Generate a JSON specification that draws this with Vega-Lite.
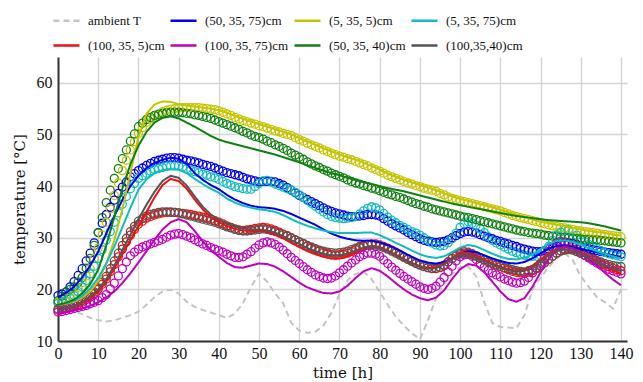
{
"$schema":"https://vega.github.io/schema/vega-lite/v6.json",
"width":569,"height":284,
"autosize":{"type":"none"},
"padding":{"left":58,"top":57,"right":16,"bottom":41},
"background":"white",
"config":{
 "font":"Liberation Serif",
 "view":{"stroke":null},
 "axis":{"labelFont":"Liberation Serif","titleFont":"DejaVu Serif","labelFontSize":16,"titleFontSize":15,"titleFontWeight":"normal","labelColor":"#111","titleColor":"#111","gridColor":"#d4d4d4","gridWidth":1.3,"domainColor":"#333","domainWidth":2,"ticks":false,"labelFlush":false},
 "legend":{"labelFont":"Liberation Serif","labelFontSize":14,"labelColor":"#111"}
},
"datasets":{
"series":[{"k":"a","name":"ambient T"},{"k":"b","name":"(50, 35, 75)cm"},{"k":"y","name":"(5, 35, 5)cm"},{"k":"c","name":"(5, 35, 75)cm"},{"k":"r","name":"(100, 35, 5)cm"},{"k":"m","name":"(100, 35, 75)cm"},{"k":"g","name":"(50, 35, 40)cm"},{"k":"k","name":"(100,35,40)cm"}],
"sim":[
{"t":0,"a":16.5,"b":18.5,"y":17,"c":17,"r":16,"m":15.5,"g":17,"k":16},
{"t":2,"a":16.2,"b":19.3,"y":17.2,"c":17.3,"r":16.2,"m":15.6,"g":17.4,"k":16.3},
{"t":4,"a":15.8,"b":20.5,"y":17.6,"c":17.8,"r":16.7,"m":15.9,"g":18,"k":16.8},
{"t":6,"a":15.2,"b":22.3,"y":18.4,"c":18.7,"r":17.4,"m":16.3,"g":19.2,"k":17.6},
{"t":8,"a":14.5,"b":24.6,"y":19.6,"c":20.2,"r":18.3,"m":16.8,"g":21,"k":18.6},
{"t":10,"a":14,"b":27.3,"y":21.6,"c":22.2,"r":19.6,"m":17.5,"g":23.8,"k":20},
{"t":12,"a":13.8,"b":30.8,"y":25,"c":25,"r":21.5,"m":18.4,"g":28.5,"k":22},
{"t":14,"a":14,"b":34.2,"y":29.5,"c":28.3,"r":24,"m":19.6,"g":34,"k":24.6},
{"t":16,"a":14.5,"b":37.3,"y":35.5,"c":32,"r":26.8,"m":21.2,"g":39.5,"k":27.6},
{"t":18,"a":15,"b":40,"y":42.5,"c":35.8,"r":29.5,"m":23.1,"g":44.2,"k":30.6},
{"t":20,"a":15.7,"b":42,"y":49.5,"c":39.3,"r":32.2,"m":25.2,"g":47.8,"k":33.6},
{"t":22,"a":17,"b":43.5,"y":54,"c":41.3,"r":35,"m":27.4,"g":50.5,"k":36.4},
{"t":24,"a":18.5,"b":44.5,"y":55.8,"c":42.5,"r":37.8,"m":29.6,"g":52.3,"k":38.9},
{"t":26,"a":19.6,"b":45.1,"y":56.4,"c":43.1,"r":40.2,"m":31.6,"g":53.2,"k":41},
{"t":28,"a":19.9,"b":45.5,"y":56.3,"c":43.3,"r":41.4,"m":33,"g":53.5,"k":42},
{"t":30,"a":19.2,"b":45.3,"y":55.9,"c":43.2,"r":41,"m":33.6,"g":53.1,"k":41.6},
{"t":32,"a":17.6,"b":44.3,"y":55.6,"c":42.5,"r":39.5,"m":33,"g":52.3,"k":40.1},
{"t":34,"a":16.6,"b":42.5,"y":55.4,"c":41.4,"r":37.4,"m":31.3,"g":51.5,"k":38},
{"t":36,"a":16,"b":41.2,"y":55.2,"c":40.4,"r":35.5,"m":29.3,"g":50.6,"k":36},
{"t":38,"a":15.5,"b":40.2,"y":55,"c":39.5,"r":34,"m":27.6,"g":49.7,"k":34.5},
{"t":40,"a":15,"b":39.4,"y":54.7,"c":38.7,"r":33,"m":26.3,"g":49,"k":33.5},
{"t":42,"a":14.5,"b":38.3,"y":54.2,"c":37.6,"r":32.3,"m":25.1,"g":48.5,"k":32.7},
{"t":44,"a":15.3,"b":37.4,"y":53.6,"c":36.8,"r":31.7,"m":24.3,"g":48.1,"k":32.1},
{"t":46,"a":17.3,"b":36.7,"y":53,"c":36.2,"r":31.4,"m":24.2,"g":47.7,"k":31.8},
{"t":48,"a":20.5,"b":36.2,"y":52.5,"c":35.8,"r":31.3,"m":24.6,"g":47.3,"k":31.6},
{"t":50,"a":23,"b":35.9,"y":52,"c":35.5,"r":31.3,"m":25,"g":46.9,"k":31.6},
{"t":52,"a":21.5,"b":35.8,"y":51.5,"c":35.3,"r":31.1,"m":24.9,"g":46.5,"k":31.4},
{"t":54,"a":19.2,"b":35.6,"y":51,"c":35,"r":30.6,"m":24.4,"g":46.1,"k":31},
{"t":56,"a":17.3,"b":35.2,"y":50.5,"c":34.4,"r":29.9,"m":23.5,"g":45.6,"k":30.3},
{"t":58,"a":13.5,"b":34.6,"y":50,"c":33.6,"r":29,"m":22.4,"g":45.1,"k":29.5},
{"t":60,"a":12,"b":33.9,"y":49.3,"c":32.9,"r":28.2,"m":21.3,"g":44.6,"k":28.8},
{"t":62,"a":11.6,"b":33.2,"y":48.6,"c":32.3,"r":27.4,"m":20.4,"g":44,"k":28},
{"t":64,"a":11.8,"b":32.5,"y":48,"c":31.8,"r":26.8,"m":19.8,"g":43.5,"k":27.4},
{"t":66,"a":13,"b":31.6,"y":47.3,"c":31.4,"r":26.3,"m":19.3,"g":43,"k":26.9},
{"t":68,"a":15.5,"b":30.8,"y":46.7,"c":31.1,"r":26,"m":19.2,"g":42.5,"k":26.6},
{"t":70,"a":19,"b":30.2,"y":46.1,"c":30.9,"r":26,"m":19.6,"g":42.1,"k":26.6},
{"t":72,"a":21.8,"b":29.8,"y":45.6,"c":30.9,"r":26.4,"m":20.7,"g":41.6,"k":26.9},
{"t":74,"a":23,"b":29.5,"y":45.1,"c":30.9,"r":27.1,"m":22.2,"g":41.2,"k":27.5},
{"t":76,"a":23.4,"b":29.4,"y":44.5,"c":31,"r":27.9,"m":23.5,"g":40.8,"k":28.1},
{"t":78,"a":22,"b":29.4,"y":43.9,"c":31,"r":28.4,"m":24.1,"g":40.4,"k":28.4},
{"t":80,"a":19.5,"b":29.1,"y":43.2,"c":30.5,"r":28.2,"m":23.6,"g":40,"k":28.1},
{"t":82,"a":17,"b":28.6,"y":42.4,"c":29.8,"r":27.5,"m":22.5,"g":39.6,"k":27.4},
{"t":84,"a":14.7,"b":27.9,"y":41.8,"c":29,"r":26.7,"m":21.2,"g":39.3,"k":26.6},
{"t":86,"a":13,"b":27.1,"y":41.2,"c":28.3,"r":25.9,"m":20,"g":39,"k":25.8},
{"t":88,"a":11.5,"b":26.3,"y":40.7,"c":27.5,"r":25.1,"m":19,"g":38.6,"k":25},
{"t":90,"a":10.3,"b":25.6,"y":40.2,"c":26.8,"r":24.5,"m":18.3,"g":38.2,"k":24.4},
{"t":92,"a":14,"b":25.2,"y":39.7,"c":26.3,"r":24.2,"m":17.9,"g":37.8,"k":24},
{"t":94,"a":18.3,"b":25,"y":39.2,"c":26.1,"r":24.3,"m":18.4,"g":37.4,"k":24.1},
{"t":96,"a":21,"b":25.3,"y":38.6,"c":26.4,"r":25,"m":19.8,"g":37,"k":24.8},
{"t":98,"a":23,"b":26,"y":38,"c":27.2,"r":26.1,"m":22,"g":36.6,"k":25.9},
{"t":100,"a":24.3,"b":26.8,"y":37.5,"c":28.1,"r":27,"m":23.9,"g":36.3,"k":26.7},
{"t":102,"a":24.5,"b":27.4,"y":37.1,"c":28.6,"r":27.1,"m":24.9,"g":36,"k":26.8},
{"t":104,"a":22.5,"b":27.2,"y":36.7,"c":28.3,"r":26.5,"m":24.6,"g":35.7,"k":26.2},
{"t":106,"a":17.5,"b":26.6,"y":36.3,"c":27.6,"r":25.8,"m":23.3,"g":35.4,"k":25.5},
{"t":108,"a":13.5,"b":26,"y":35.9,"c":26.9,"r":25,"m":21.5,"g":35.1,"k":24.8},
{"t":110,"a":12.7,"b":25.5,"y":35.4,"c":26.3,"r":24.4,"m":19.6,"g":34.8,"k":24.2},
{"t":112,"a":12.6,"b":25.1,"y":34.9,"c":25.9,"r":23.9,"m":18.1,"g":34.5,"k":23.7},
{"t":114,"a":12.5,"b":25,"y":34.4,"c":25.8,"r":23.6,"m":17.6,"g":34.2,"k":23.4},
{"t":116,"a":15,"b":25.3,"y":34,"c":26.1,"r":23.8,"m":18.3,"g":34,"k":23.6},
{"t":118,"a":20,"b":26,"y":33.5,"c":26.8,"r":24.6,"m":20.5,"g":33.8,"k":24.3},
{"t":120,"a":22.3,"b":27,"y":33.1,"c":27.8,"r":25.8,"m":23.3,"g":33.6,"k":25.4},
{"t":122,"a":24.3,"b":27.9,"y":32.8,"c":28.8,"r":27,"m":25.8,"g":33.4,"k":26.6},
{"t":124,"a":26,"b":28.4,"y":32.5,"c":29.4,"r":27.8,"m":27.6,"g":33.3,"k":27.4},
{"t":126,"a":27,"b":28.5,"y":32.2,"c":29.5,"r":28.2,"m":28.2,"g":33.2,"k":27.7},
{"t":128,"a":25.7,"b":28.2,"y":31.9,"c":29.2,"r":27.9,"m":27.9,"g":33.1,"k":27.5},
{"t":130,"a":22.5,"b":27.8,"y":31.6,"c":28.6,"r":27.2,"m":26.9,"g":33,"k":26.9},
{"t":132,"a":20.5,"b":27.5,"y":31.3,"c":28,"r":26.3,"m":25.8,"g":32.8,"k":26.1},
{"t":134,"a":18.5,"b":27.2,"y":31.1,"c":27.4,"r":25.4,"m":24.6,"g":32.5,"k":25.3},
{"t":136,"a":17.5,"b":26.9,"y":30.9,"c":26.9,"r":24.5,"m":23.2,"g":32.2,"k":24.6},
{"t":138,"a":16.3,"b":26.6,"y":30.6,"c":26.4,"r":23.7,"m":21.9,"g":31.8,"k":24},
{"t":140,"a":20,"b":26.3,"y":30.4,"c":26,"r":23,"m":20.8,"g":31.4,"k":23.5}
],
"meas":[
{"t":0,"b":18.8,"y":17.6,"c":17.3,"r":16,"m":15.6,"g":17.8,"k":16.2},
{"t":1,"b":19.1,"y":18,"c":17.5,"r":16.1,"m":15.7,"g":18.7,"k":16.3},
{"t":2,"b":19.5,"y":18.4,"c":17.8,"r":16.3,"m":15.9,"g":19.5,"k":16.5},
{"t":3,"b":20.5,"y":18.9,"c":18.3,"r":16.5,"m":16.1,"g":20,"k":16.7},
{"t":4,"b":21.5,"y":19.5,"c":18.8,"r":16.8,"m":16.3,"g":20.5,"k":17},
{"t":5,"b":22.7,"y":20.4,"c":19.6,"r":17.1,"m":16.5,"g":21.4,"k":17.4},
{"t":6,"b":24,"y":21.3,"c":20.5,"r":17.5,"m":16.7,"g":22.3,"k":17.8},
{"t":7,"b":25.5,"y":22.6,"c":21.7,"r":18,"m":16.9,"g":24.1,"k":18.3},
{"t":8,"b":27,"y":24,"c":23,"r":18.5,"m":17.2,"g":26,"k":18.8},
{"t":9,"b":29,"y":26,"c":24.5,"r":19.2,"m":17.5,"g":28.5,"k":19.5},
{"t":10,"b":31,"y":28,"c":26,"r":20,"m":17.8,"g":31,"k":20.3},
{"t":11,"b":32.8,"y":30.5,"c":27.7,"r":21,"m":18.4,"g":33.9,"k":21.4},
{"t":12,"b":34.5,"y":33,"c":29.5,"r":22,"m":19,"g":36.8,"k":22.5},
{"t":13,"b":35.9,"y":35.6,"c":31.2,"r":23.4,"m":20.1,"g":39.2,"k":24},
{"t":14,"b":37.3,"y":38.2,"c":33,"r":24.8,"m":21.2,"g":41.5,"k":25.5},
{"t":15,"b":38.6,"y":40.6,"c":34.8,"r":26.3,"m":22.6,"g":43.4,"k":27},
{"t":16,"b":39.8,"y":43,"c":36.5,"r":27.8,"m":24,"g":45.3,"k":28.5},
{"t":17,"b":40.8,"y":45,"c":38,"r":29.2,"m":25.3,"g":47,"k":29.9},
{"t":18,"b":41.8,"y":47,"c":39.5,"r":30.5,"m":26.5,"g":48.7,"k":31.2},
{"t":19,"b":42.4,"y":48.6,"c":40.5,"r":31.6,"m":27.2,"g":50.1,"k":32.2},
{"t":20,"b":43,"y":50.2,"c":41.5,"r":32.6,"m":27.8,"g":51.5,"k":33.2},
{"t":21,"b":43.5,"y":51.3,"c":42,"r":33.2,"m":28.2,"g":52.2,"k":33.7},
{"t":22,"b":44,"y":52.3,"c":42.5,"r":33.8,"m":28.5,"g":52.9,"k":34.2},
{"t":23,"b":44.4,"y":53,"c":42.9,"r":34.1,"m":28.8,"g":53.3,"k":34.5},
{"t":24,"b":44.8,"y":53.6,"c":43.2,"r":34.4,"m":29.1,"g":53.7,"k":34.7},
{"t":25,"b":45,"y":54,"c":43.4,"r":34.6,"m":29.4,"g":53.9,"k":34.9},
{"t":26,"b":45.2,"y":54.4,"c":43.6,"r":34.8,"m":29.7,"g":54.1,"k":35},
{"t":27,"b":45.4,"y":54.7,"c":43.8,"r":34.9,"m":30.1,"g":54.2,"k":35},
{"t":28,"b":45.5,"y":54.9,"c":43.9,"r":34.9,"m":30.5,"g":54.3,"k":35},
{"t":29,"b":45.5,"y":55,"c":43.9,"r":34.9,"m":30.7,"g":54.3,"k":34.9},
{"t":30,"b":45.4,"y":55.1,"c":43.9,"r":34.8,"m":30.8,"g":54.3,"k":34.8},
{"t":31,"b":45.2,"y":55.2,"c":43.7,"r":34.7,"m":30.6,"g":54.2,"k":34.6},
{"t":32,"b":45,"y":55.2,"c":43.4,"r":34.6,"m":30.3,"g":54.1,"k":34.4},
{"t":33,"b":44.9,"y":55.2,"c":43.1,"r":34.5,"m":30,"g":54,"k":34.2},
{"t":34,"b":44.7,"y":55.2,"c":42.8,"r":34.3,"m":29.6,"g":53.8,"k":34},
{"t":35,"b":44.5,"y":55.2,"c":42.6,"r":34.2,"m":29.2,"g":53.7,"k":33.8},
{"t":36,"b":44.2,"y":55.1,"c":42.3,"r":34,"m":28.8,"g":53.5,"k":33.6},
{"t":37,"b":44,"y":55,"c":42.1,"r":33.8,"m":28.5,"g":53.3,"k":33.4},
{"t":38,"b":43.8,"y":54.9,"c":41.8,"r":33.6,"m":28.1,"g":53.1,"k":33.2},
{"t":39,"b":43.5,"y":54.8,"c":41.6,"r":33.3,"m":27.8,"g":52.8,"k":33},
{"t":40,"b":43.2,"y":54.6,"c":41.3,"r":33,"m":27.5,"g":52.5,"k":32.7},
{"t":41,"b":42.9,"y":54.3,"c":40.9,"r":32.7,"m":27.2,"g":52.2,"k":32.4},
{"t":42,"b":42.6,"y":54,"c":40.5,"r":32.3,"m":26.8,"g":51.9,"k":32.1},
{"t":43,"b":42.4,"y":53.7,"c":40.2,"r":32,"m":26.5,"g":51.6,"k":31.9},
{"t":44,"b":42.2,"y":53.3,"c":39.9,"r":31.7,"m":26.2,"g":51.3,"k":31.6},
{"t":45,"b":42,"y":53,"c":39.7,"r":31.5,"m":26.2,"g":51,"k":31.4},
{"t":46,"b":41.7,"y":52.7,"c":39.5,"r":31.4,"m":26.3,"g":50.6,"k":31.3},
{"t":47,"b":41.4,"y":52.5,"c":39.4,"r":31.5,"m":26.8,"g":50.3,"k":31.3},
{"t":48,"b":41.2,"y":52.2,"c":39.4,"r":31.6,"m":27.3,"g":49.9,"k":31.4},
{"t":49,"b":41,"y":52,"c":39.9,"r":31.8,"m":28,"g":49.6,"k":31.5},
{"t":50,"b":40.8,"y":51.7,"c":40.5,"r":31.9,"m":28.6,"g":49.4,"k":31.6},
{"t":51,"b":40.9,"y":51.5,"c":41,"r":32,"m":29,"g":49.1,"k":31.7},
{"t":52,"b":40.9,"y":51.2,"c":41.1,"r":31.9,"m":29.2,"g":48.7,"k":31.6},
{"t":53,"b":40.9,"y":51,"c":40.8,"r":31.7,"m":29,"g":48.4,"k":31.4},
{"t":54,"b":40.8,"y":50.7,"c":40.4,"r":31.4,"m":28.7,"g":48,"k":31.2},
{"t":55,"b":40.5,"y":50.5,"c":40.1,"r":31.1,"m":28.2,"g":47.7,"k":30.9},
{"t":56,"b":40.2,"y":50.2,"c":39.8,"r":30.7,"m":27.6,"g":47.3,"k":30.6},
{"t":57,"b":39.7,"y":50,"c":39.5,"r":30.4,"m":26.9,"g":46.9,"k":30.3},
{"t":58,"b":39.2,"y":49.8,"c":39.2,"r":30,"m":26.2,"g":46.4,"k":29.9},
{"t":59,"b":38.7,"y":49.4,"c":38.8,"r":29.6,"m":25.6,"g":46,"k":29.6},
{"t":60,"b":38.2,"y":49,"c":38.3,"r":29.2,"m":25,"g":45.6,"k":29.2},
{"t":61,"b":37.8,"y":48.7,"c":37.8,"r":28.8,"m":24.4,"g":45.2,"k":28.9},
{"t":62,"b":37.4,"y":48.3,"c":37.2,"r":28.4,"m":23.8,"g":44.7,"k":28.5},
{"t":63,"b":37,"y":48,"c":36.7,"r":28,"m":23.3,"g":44.3,"k":28.2},
{"t":64,"b":36.6,"y":47.7,"c":36.1,"r":27.7,"m":22.8,"g":43.9,"k":27.9},
{"t":65,"b":36.2,"y":47.4,"c":35.5,"r":27.4,"m":22.5,"g":43.6,"k":27.6},
{"t":66,"b":35.8,"y":47,"c":35,"r":27.1,"m":22.2,"g":43.2,"k":27.4},
{"t":67,"b":35.4,"y":46.7,"c":34.5,"r":26.9,"m":22.1,"g":42.9,"k":27.2},
{"t":68,"b":35.1,"y":46.4,"c":34.1,"r":26.7,"m":22.2,"g":42.5,"k":27.1},
{"t":69,"b":34.8,"y":46.1,"c":33.9,"r":26.6,"m":22.6,"g":42.2,"k":27},
{"t":70,"b":34.6,"y":45.8,"c":33.8,"r":26.7,"m":23.2,"g":41.9,"k":27.1},
{"t":71,"b":34.4,"y":45.6,"c":33.7,"r":26.8,"m":23.8,"g":41.6,"k":27.2},
{"t":72,"b":34.2,"y":45.3,"c":33.8,"r":27,"m":24.5,"g":41.2,"k":27.4},
{"t":73,"b":34.1,"y":45.1,"c":33.9,"r":27.3,"m":25.1,"g":40.9,"k":27.7},
{"t":74,"b":34.1,"y":44.8,"c":34.1,"r":27.7,"m":25.7,"g":40.6,"k":28},
{"t":75,"b":34.2,"y":44.5,"c":34.6,"r":28.1,"m":26.3,"g":40.4,"k":28.3},
{"t":76,"b":34.3,"y":44.2,"c":35.2,"r":28.4,"m":26.7,"g":40.1,"k":28.5},
{"t":77,"b":34.5,"y":43.9,"c":35.7,"r":28.7,"m":27,"g":39.9,"k":28.7},
{"t":78,"b":34.5,"y":43.5,"c":36,"r":28.8,"m":27,"g":39.6,"k":28.7},
{"t":79,"b":34.4,"y":43.2,"c":35.8,"r":28.8,"m":26.8,"g":39.4,"k":28.6},
{"t":80,"b":34.2,"y":42.9,"c":35.4,"r":28.6,"m":26.4,"g":39.1,"k":28.4},
{"t":81,"b":33.7,"y":42.5,"c":34.7,"r":28.3,"m":25.7,"g":38.8,"k":28.1},
{"t":82,"b":33.2,"y":42.1,"c":34,"r":28,"m":25,"g":38.5,"k":27.8},
{"t":83,"b":32.7,"y":41.8,"c":33.4,"r":27.6,"m":24.3,"g":38.3,"k":27.4},
{"t":84,"b":32.3,"y":41.5,"c":32.9,"r":27.2,"m":23.7,"g":38,"k":27},
{"t":85,"b":31.9,"y":41.2,"c":32.4,"r":26.8,"m":23.1,"g":37.8,"k":26.6},
{"t":86,"b":31.5,"y":40.9,"c":32,"r":26.3,"m":22.5,"g":37.5,"k":26.2},
{"t":87,"b":31,"y":40.6,"c":31.6,"r":25.9,"m":22,"g":37.2,"k":25.8},
{"t":88,"b":30.6,"y":40.4,"c":31.2,"r":25.5,"m":21.5,"g":36.9,"k":25.4},
{"t":89,"b":30.2,"y":40.1,"c":30.9,"r":25.1,"m":21,"g":36.6,"k":25},
{"t":90,"b":29.8,"y":39.9,"c":30.5,"r":24.8,"m":20.5,"g":36.4,"k":24.7},
{"t":91,"b":29.5,"y":39.6,"c":30,"r":24.5,"m":20.2,"g":36.1,"k":24.4},
{"t":92,"b":29.3,"y":39.4,"c":29.5,"r":24.2,"m":20,"g":35.9,"k":24.2},
{"t":93,"b":29.2,"y":39.2,"c":29,"r":24,"m":20.2,"g":35.6,"k":24.1},
{"t":94,"b":29.1,"y":39,"c":28.6,"r":24,"m":20.6,"g":35.4,"k":24.1},
{"t":95,"b":29.2,"y":38.6,"c":28.4,"r":24.2,"m":21.4,"g":35.2,"k":24.3},
{"t":96,"b":29.3,"y":38.3,"c":28.5,"r":24.6,"m":22.3,"g":35,"k":24.7},
{"t":97,"b":29.6,"y":37.9,"c":29,"r":25.3,"m":23.4,"g":34.8,"k":25.3},
{"t":98,"b":30,"y":37.6,"c":29.8,"r":26,"m":24.5,"g":34.6,"k":26},
{"t":99,"b":30.4,"y":37.4,"c":30.9,"r":26.6,"m":25.5,"g":34.4,"k":26.5},
{"t":100,"b":30.8,"y":37.2,"c":32,"r":27.1,"m":26.3,"g":34.2,"k":26.9},
{"t":101,"b":31.1,"y":37,"c":32.7,"r":27.3,"m":26.7,"g":34,"k":27},
{"t":102,"b":31.2,"y":36.8,"c":33.1,"r":27.2,"m":26.8,"g":33.9,"k":27},
{"t":103,"b":31.1,"y":36.6,"c":32.8,"r":26.9,"m":26.4,"g":33.7,"k":26.7},
{"t":104,"b":30.9,"y":36.4,"c":32.4,"r":26.5,"m":25.8,"g":33.5,"k":26.4},
{"t":105,"b":30.6,"y":36.2,"c":31.7,"r":26.1,"m":25,"g":33.3,"k":26},
{"t":106,"b":30.3,"y":36,"c":31,"r":25.7,"m":24.3,"g":33.1,"k":25.7},
{"t":107,"b":30,"y":35.8,"c":30.2,"r":25.3,"m":23.7,"g":32.9,"k":25.4},
{"t":108,"b":29.8,"y":35.6,"c":29.5,"r":25,"m":23.2,"g":32.7,"k":25.1},
{"t":109,"b":29.5,"y":35.4,"c":29,"r":24.7,"m":22.8,"g":32.5,"k":24.8},
{"t":110,"b":29.3,"y":35.2,"c":28.6,"r":24.4,"m":22.4,"g":32.3,"k":24.5},
{"t":111,"b":29,"y":34.9,"c":28.2,"r":24.1,"m":22,"g":32.1,"k":24.2},
{"t":112,"b":28.8,"y":34.6,"c":27.8,"r":23.8,"m":21.7,"g":31.9,"k":24},
{"t":113,"b":28.5,"y":34.3,"c":27.4,"r":23.5,"m":21.4,"g":31.7,"k":23.8},
{"t":114,"b":28.3,"y":34.1,"c":27.1,"r":23.3,"m":21.2,"g":31.5,"k":23.6},
{"t":115,"b":28,"y":33.9,"c":26.8,"r":23.2,"m":21.3,"g":31.3,"k":23.5},
{"t":116,"b":27.8,"y":33.7,"c":26.6,"r":23.1,"m":21.6,"g":31.2,"k":23.4},
{"t":117,"b":27.6,"y":33.5,"c":26.5,"r":23.3,"m":22.3,"g":31,"k":23.6},
{"t":118,"b":27.4,"y":33.3,"c":26.4,"r":23.6,"m":23.2,"g":30.9,"k":23.8},
{"t":119,"b":27.3,"y":33.1,"c":26.4,"r":24,"m":24.1,"g":30.8,"k":24.2},
{"t":120,"b":27.3,"y":32.9,"c":26.6,"r":24.5,"m":25,"g":30.7,"k":24.6},
{"t":121,"b":27.5,"y":32.7,"c":27.3,"r":25.1,"m":26.2,"g":30.5,"k":25.2},
{"t":122,"b":27.8,"y":32.5,"c":28.3,"r":25.8,"m":27.3,"g":30.4,"k":25.8},
{"t":123,"b":28.1,"y":32.3,"c":29.5,"r":26.4,"m":28.3,"g":30.3,"k":26.4},
{"t":124,"b":28.4,"y":32.2,"c":30.5,"r":27,"m":29,"g":30.2,"k":27},
{"t":125,"b":28.7,"y":32,"c":31.1,"r":27.5,"m":29.3,"g":30.1,"k":27.4},
{"t":126,"b":28.9,"y":31.9,"c":31.5,"r":27.8,"m":29.2,"g":30.1,"k":27.6},
{"t":127,"b":29,"y":31.7,"c":31.5,"r":27.9,"m":28.8,"g":30,"k":27.7},
{"t":128,"b":28.9,"y":31.6,"c":31.2,"r":27.8,"m":28.3,"g":29.9,"k":27.6},
{"t":129,"b":28.7,"y":31.4,"c":30.5,"r":27.4,"m":27.8,"g":29.8,"k":27.3},
{"t":130,"b":28.4,"y":31.3,"c":29.7,"r":27,"m":27.2,"g":29.8,"k":27},
{"t":131,"b":28.1,"y":31.2,"c":29.2,"r":26.6,"m":26.6,"g":29.7,"k":26.6},
{"t":132,"b":27.9,"y":31.1,"c":28.7,"r":26.2,"m":26.1,"g":29.7,"k":26.3},
{"t":133,"b":27.7,"y":31,"c":28.3,"r":25.8,"m":25.6,"g":29.6,"k":26},
{"t":134,"b":27.5,"y":30.9,"c":27.9,"r":25.4,"m":25.1,"g":29.6,"k":25.6},
{"t":135,"b":27.3,"y":30.7,"c":27.5,"r":25,"m":24.7,"g":29.5,"k":25.3},
{"t":136,"b":27.2,"y":30.6,"c":27.2,"r":24.7,"m":24.3,"g":29.4,"k":25},
{"t":137,"b":27.1,"y":30.5,"c":26.9,"r":24.4,"m":23.9,"g":29.3,"k":24.8},
{"t":138,"b":27,"y":30.4,"c":26.7,"r":24.1,"m":23.6,"g":29.2,"k":24.6},
{"t":139,"b":26.9,"y":30.3,"c":26.5,"r":23.8,"m":23.3,"g":29.1,"k":24.5},
{"t":140,"b":26.8,"y":30.2,"c":26.3,"r":23.6,"m":23,"g":29,"k":24.4}
]
},
"layer":[
{
 "data":{"name":"sim"},
 "transform":[{"fold":["a"],"as":["k","v"]},{"lookup":"k","from":{"data":{"name":"series"},"key":"k","fields":["name"]}}],
 "mark":{"type":"line","strokeWidth":2},
 "encoding":{
  "x":{"field":"t","type":"quantitative","scale":{"domain":[0,141.5],"nice":false,"zero":false},"axis":{"values":[0,10,20,30,40,50,60,70,80,90,100,110,120,130,140],"title":"time [h]","labelPadding":4,"titlePadding":4}},
  "y":{"field":"v","type":"quantitative","scale":{"domain":[10,65],"nice":false,"zero":false},"axis":{"values":[10,20,30,40,50,60],"title":"temperature [°C]","labelPadding":6,"titlePadding":9}},
  "color":{"field":"name","type":"nominal","scale":{"domain":["ambient T","(50, 35, 75)cm","(5, 35, 5)cm","(5, 35, 75)cm","(100, 35, 5)cm","(100, 35, 75)cm","(50, 35, 40)cm","(100,35,40)cm"],"range":["#c4c4c4","#0000f0","#c4c400","#10bcbc","#f01010","#bf00bf","#108010","#555555"]},"legend":{"orient":"none","legendX":-6,"legendY":-51,"columns":4,"direction":"horizontal","gridAlign":"each","title":null,"symbolType":"stroke","symbolSize":676,"symbolStrokeWidth":2.5,"labelFont":"Liberation Serif","labelFontSize":13,"columnPadding":0,"rowPadding":3,"labelOffset":7}},
  "strokeDash":{"field":"name","type":"nominal","scale":{"domain":["ambient T","(50, 35, 75)cm","(5, 35, 5)cm","(5, 35, 75)cm","(100, 35, 5)cm","(100, 35, 75)cm","(50, 35, 40)cm","(100,35,40)cm"],"range":[[6,4],[1,0],[1,0],[1,0],[1,0],[1,0],[1,0],[1,0]]},"legend":{"orient":"none","legendX":-6,"legendY":-51,"columns":4,"direction":"horizontal","gridAlign":"each","title":null,"symbolType":"stroke","symbolSize":676,"symbolStrokeWidth":2.5,"labelFont":"Liberation Serif","labelFontSize":13,"columnPadding":0,"rowPadding":3,"labelOffset":7}}
 }
},
{
 "data":{"name":"meas"},
 "transform":[{"fold":["b","y","c","r","m","g","k"],"as":["k","v"]},{"lookup":"k","from":{"data":{"name":"series"},"key":"k","fields":["name"]}}],
 "mark":{"type":"point","shape":"circle","filled":false,"size":64,"strokeWidth":1.3,"opacity":1},
 "encoding":{
  "x":{"field":"t","type":"quantitative"},
  "y":{"field":"v","type":"quantitative"},
  "color":{"field":"name","type":"nominal"}
 }
},
{
 "data":{"name":"sim"},
 "transform":[{"fold":["b","y","c","r","m","g","k"],"as":["k","v"]},{"lookup":"k","from":{"data":{"name":"series"},"key":"k","fields":["name"]}}],
 "mark":{"type":"line","strokeWidth":2},
 "encoding":{
  "x":{"field":"t","type":"quantitative"},
  "y":{"field":"v","type":"quantitative"},
  "color":{"field":"name","type":"nominal"},
  "strokeDash":{"field":"name","type":"nominal"}
 }
}
]
}
